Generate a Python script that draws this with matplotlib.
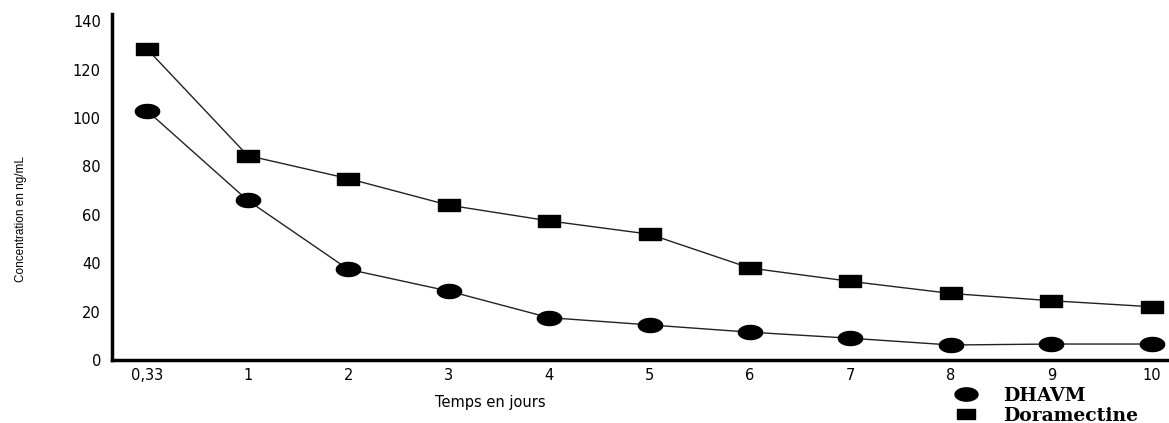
import numpy as np
import matplotlib
matplotlib.use("Agg")
import matplotlib.pyplot as plt
from matplotlib.lines import Line2D

# ---- data ----
categories = ["0,33", "1", "2", "3", "4", "5", "6", "7", "8", "9", "10"]
dhavm = [103, 66, 37.5, 28.5, 17.5, 14.5, 11.5, 9, 6.2, 6.6, 6.6]
doramectine = [128.5, 84.5, 75, 64, 57.5, 52, 38, 32.5, 27.5, 24.5, 22]
yticks = [0, 20, 40, 60, 80, 100, 120, 140]

# custom stretched markers
t = np.linspace(0, 2 * np.pi, 60)
ellipse = np.column_stack([np.cos(t) * 1.0, np.sin(t) * 0.58])
rect = np.array([[-1, -0.6], [1, -0.6], [1, 0.6], [-1, 0.6], [-1, -0.6]])

fig = plt.figure(figsize=(11.69, 4.23), dpi=100)
ax = fig.add_axes([112 / 1169, 1 - 360 / 423, 1 - 112 / 1169, (360 - 14) / 423])

x = np.arange(len(categories))
ax.plot(x, doramectine, color="#222222", lw=1.0, marker=rect, ms=15.5,
        mfc="black", mec="black", zorder=3)
ax.plot(x, dhavm, color="#222222", lw=1.0, marker=ellipse, ms=17.5,
        mfc="black", mec="black", zorder=3)

ax.set_xlim(-0.35, 10.17)
ax.set_ylim(0, 143)
ax.set_xticks(x)
ax.set_xticklabels(categories)
ax.set_yticks(yticks)
ax.tick_params(length=0, labelsize=10.5)
ax.tick_params(axis="y", pad=8)
ax.tick_params(axis="x", pad=6)
for lab in ax.get_xticklabels() + ax.get_yticklabels():
    lab.set_fontfamily("DejaVu Sans")

for s in ["top", "right"]:
    ax.spines[s].set_visible(False)
for s in ["left", "bottom"]:
    ax.spines[s].set_linewidth(2.5)
    ax.spines[s].set_color("black")

fig.text(490 / 1169, 1 - 402 / 423, "Temps en jours", ha="center", va="center",
         fontsize=10.5, family=["DejaVu Sans"])
fig.text(21 / 1169, 1 - 219 / 423, "Concentration en ng/mL", ha="center", va="center",
         rotation=90, fontsize=8.5,
         family=["Liberation Sans Narrow", "Liberation Sans", "DejaVu Sans"])

handles = [
    Line2D([], [], linestyle="none", marker=ellipse, ms=16.5, mfc="black", mec="black"),
    Line2D([], [], linestyle="none", marker=rect, ms=12.5, mfc="black", mec="black"),
]
leg = fig.legend(handles, ["DHAVM", "Doramectine"], loc="upper left",
                 bbox_to_anchor=(953 / 1169, 1 - 387 / 423), frameon=False,
                 handlelength=1.4, handletextpad=1.3, labelspacing=0.1,
                 borderaxespad=0, borderpad=0,
                 prop={"family": "DejaVu Serif", "weight": "bold", "size": 13.5})

fig.savefig("out.png", dpi=100)
